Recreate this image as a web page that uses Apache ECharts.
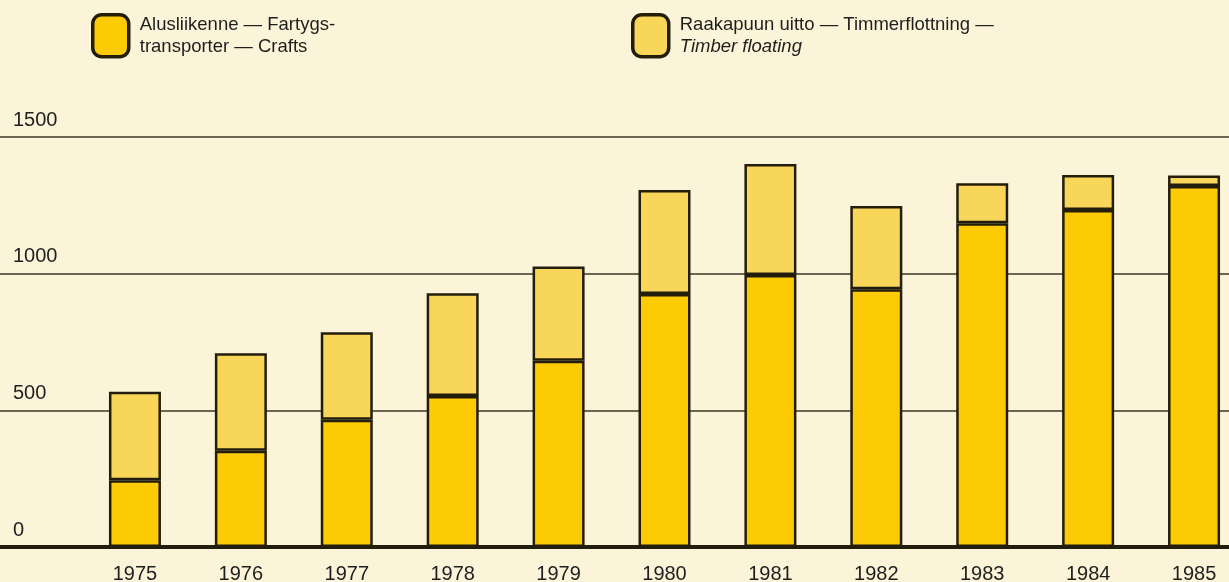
<!DOCTYPE html>
<html>
<head>
<meta charset="utf-8">
<script src="https://cdn.jsdelivr.net/npm/echarts@6/dist/echarts.min.js"></script>
<style>
html,body{margin:0;padding:0;background:#FCF4D8;}
#chart{width:1229px;height:582px;}
</style>
</head>
<body>
<div id="chart"></div>
<script>
var years = ['1975','1976','1977','1978','1979','1980','1981','1982','1983','1984','1985'];
var crafts = [244, 352, 466, 552, 681, 926, 995, 943, 1184, 1233, 1321];
var timber = [324, 357, 320, 376, 345, 380, 406, 305, 147, 128, 38];
var yTicks = [0, 500, 1000, 1500];
var craftsLabel = ['Alusliikenne — Fartygs-', 'transporter — Crafts'];
var timberLabel = ['Raakapuun uitto — Timmerflottning —', 'Timber floating'];

var FONT = '"Liberation Sans", Arial, Helvetica, sans-serif';
var INK = '#231d0c';

var chart = echarts.init(document.getElementById('chart'));
var legendBase = {
  orient: 'horizontal',
  top: 13,
  padding: 0,
  itemWidth: 36,
  itemHeight: 42,
  icon: 'roundRect',
  selectedMode: false,
  itemStyle: { borderColor: INK, borderWidth: 3.5 },
  textStyle: {
    fontFamily: FONT, fontSize: 18.5, color: '#1e1e1e', lineHeight: 22,
    padding: [0, 0, 0, 6],
    rich: {
      a: { fontFamily: FONT, fontSize: 18.5, color: '#1e1e1e', lineHeight: 22 },
      i: { fontFamily: FONT, fontSize: 18.5, color: '#1e1e1e', lineHeight: 22, fontStyle: 'italic' }
    }
  }
};

var option = {
  backgroundColor: '#FCF4D8',
  animation: false,
  legend: [
    Object.assign({}, legendBase, {
      left: 91, data: ['Crafts'],
      formatter: function () { return '{a|' + craftsLabel[0] + '}\n{a|' + craftsLabel[1] + '}'; }
    }),
    Object.assign({}, legendBase, {
      left: 631, data: ['Timber floating'],
      formatter: function () { return '{a|' + timberLabel[0] + '}\n{i|' + timberLabel[1] + '}'; }
    })
  ],
  grid: [
    { left: 0, right: 0, top: 137, height: 410, outerBoundsMode: 'none' },
    { left: 82, width: 1165, top: 137, height: 410, outerBoundsMode: 'none' }
  ],
  xAxis: [
    { type: 'value', gridIndex: 0, min: 0, max: 1,
      axisLine: { show: true, onZero: false, lineStyle: { color: INK, width: 4 } },
      axisTick: { show: false }, axisLabel: { show: false }, splitLine: { show: false } },
    { type: 'category', gridIndex: 1, data: years,
      axisLine: { show: false }, axisTick: { show: false }, splitLine: { show: false },
      axisLabel: { fontFamily: FONT, fontSize: 20, color: '#1e1e1e', margin: 17 } }
  ],
  yAxis: [
    { type: 'value', gridIndex: 0, min: 0, max: 1500, interval: 500,
      axisLine: { show: false }, axisTick: { show: false },
      splitLine: { show: true, lineStyle: { color: '#3b3826', width: 1.5 } },
      axisLabel: {
        inside: true, margin: 13, verticalAlign: 'bottom', padding: [0, 0, 7, 0],
        fontFamily: FONT, fontSize: 20, color: '#1e1e1e',
        formatter: function (v) { return yTicks.indexOf(v) >= 0 ? String(v) : ''; }
      } },
    { type: 'value', gridIndex: 1, min: 0, max: 1500, interval: 500, show: false,
      splitLine: { show: false } }
  ],
  series: [
    { name: 'Crafts', type: 'bar', stack: 'total', xAxisIndex: 1, yAxisIndex: 1,
      data: crafts, barWidth: 52, z: 4,
      itemStyle: { color: '#FDCB04', borderColor: INK, borderWidth: 2.5 } },
    { name: 'Timber floating', type: 'bar', stack: 'total', xAxisIndex: 1, yAxisIndex: 1,
      data: timber, barWidth: 52, z: 3,
      itemStyle: { color: '#F7D65A', borderColor: INK, borderWidth: 2.5 } }
  ]
};
chart.setOption(option);
</script>
</body>
</html>
